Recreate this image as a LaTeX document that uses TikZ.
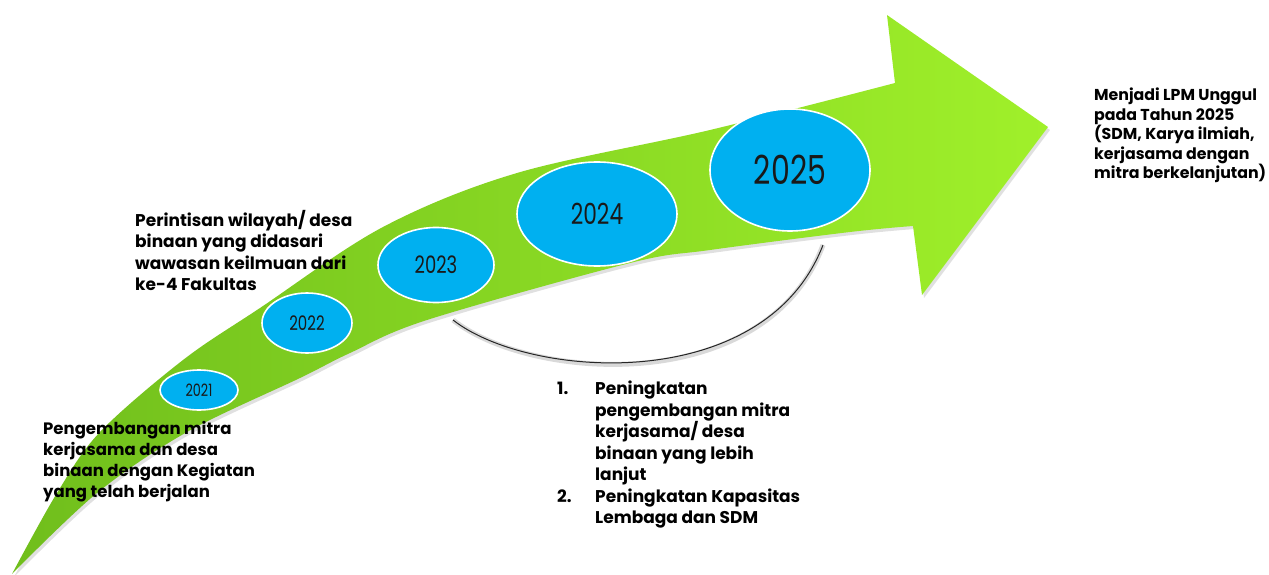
\documentclass[tikz,border=0pt]{standalone}
\usepackage{fontspec}
\setmainfont{Poppins}
\newfontfamily\yearfont[FakeStretch=0.75]{Poppins}
\usetikzlibrary{shapes.geometric}
\definecolor{arrowdark}{RGB}{112,190,28}
\definecolor{arrowlight}{RGB}{160,240,42}
\definecolor{skyblue}{RGB}{0,176,240}

\begin{document}
\begin{tikzpicture}[x=1pt,y=-1pt,yearbox/.style={shape=ellipse,draw=white,line width=1.6pt,fill=skyblue,inner sep=0pt,text=black!90},note/.style={anchor=north west,align=left,inner sep=0pt,font=\bfseries\fontsize{17}{21.5}\selectfont}]
\useasboundingbox (0,0) rectangle (1269,575);
\def\arrowpath{plot[smooth,tension=0.55] coordinates {(12,574) (57,493) (100,432) (183,360) (260,308) (383,227) (517,173) (710,130) (895,83)} -- (887,15) -- (1048,127) -- (922,295) -- plot[smooth,tension=0.55] coordinates {(913,226) (850,232) (710,250) (630,263) (427,320) (350,353) (300,378) (187,432) (97,493) (12,574)} -- cycle}

\fill[black,opacity=0.12,xshift=2pt,yshift=-3pt] \arrowpath;
\shade[left color=arrowdark,right color=arrowlight] \arrowpath;

\node[yearbox,minimum width=78pt,minimum height=40pt] (y2021) at (199,390) {\yearfont\fontsize{17}{17}\selectfont 2021};
\node[yearbox,minimum width=90pt,minimum height=60pt] (y2022) at (307,323) {\yearfont\fontsize{20}{20}\selectfont 2022};
\node[yearbox,minimum width=116pt,minimum height=75pt] (y2023) at (436,265) {\yearfont\fontsize{24}{24}\selectfont 2023};
\node[yearbox,minimum width=160pt,minimum height=104pt] (y2024) at (597,214) {\yearfont\fontsize{29}{29}\selectfont 2024};
\node[yearbox,minimum width=160pt,minimum height=122pt] (y2025) at (790,170) {\yearfont\fontsize{40}{40}\selectfont 2025};

\coordinate (arcA) at (453,320);
\coordinate (arcB) at (823,245);
\draw[black,opacity=0.15,line width=5pt,xshift=1.5pt,yshift=-2pt] (arcA) .. controls (530,380) and (765,395) .. (arcB);
\draw[black!85,line width=1pt] (arcA) .. controls (530,380) and (765,395) .. (arcB);

\node[note,font=\bfseries\fontsize{16.5}{21}\selectfont] (start) at (43,421) {Pengembangan mitra\\kerjasama dan desa\\binaan dengan Kegiatan\\yang telah berjalan};
\node[note] (pioneer) at (135,210) {Perintisan wilayah/ desa\\binaan yang didasari\\wawasan keilmuan dari\\ke-4 Fakultas};
\node[note] (plan) at (557,381) {\makebox[38pt][l]{1.}Peningkatan\\\hspace*{38pt}pengembangan mitra\\\hspace*{38pt}kerjasama/ desa\\\hspace*{38pt}binaan yang lebih\\\hspace*{38pt}lanjut\\\makebox[38pt][l]{2.}Peningkatan Kapasitas\\\hspace*{38pt}Lembaga dan SDM};
\node[note,font=\bfseries\fontsize{15.8}{19.5}\selectfont] (goal) at (1094,88) {Menjadi LPM Unggul\\pada Tahun 2025\\(SDM, Karya ilmiah,\\kerjasama dengan\\mitra berkelanjutan)};
\end{tikzpicture}
\end{document}
